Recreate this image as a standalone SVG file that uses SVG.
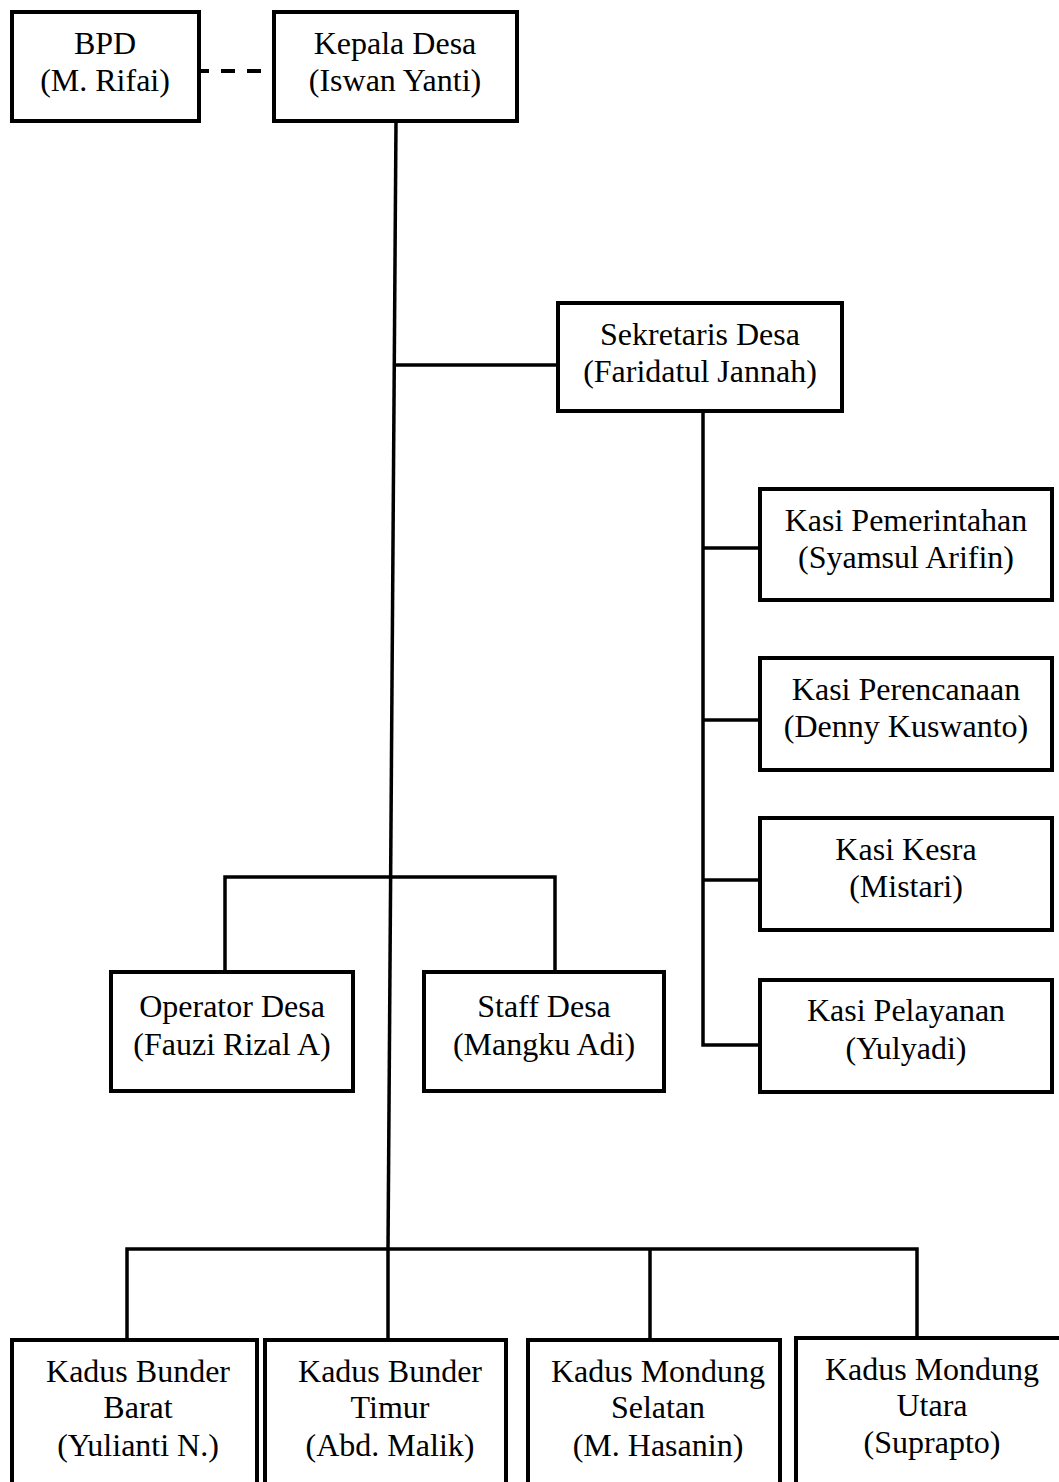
<svg xmlns="http://www.w3.org/2000/svg" width="1059" height="1482" viewBox="0 0 1059 1482">
<style>
.box{fill:#fff;stroke:#000;stroke-width:4}
.ln{fill:none;stroke:#000;stroke-width:3.5}
.dash{fill:none;stroke:#000;stroke-width:4;stroke-dasharray:10 12 14 12 14 12 30}
.t{font-size:32px;fill:#000;text-anchor:middle}
</style>
<rect width="1059" height="1482" fill="#fff"/>
<g id="connectors">
<line class="dash" x1="199" y1="71" x2="274" y2="71"/>
<line class="ln" x1="396" y1="121" x2="388" y2="1249"/>
<line class="ln" x1="395" y1="365" x2="558" y2="365"/>
<polyline class="ln" points="703,411 703,1045 760,1045"/>
<line class="ln" x1="703" y1="548" x2="760" y2="548"/>
<line class="ln" x1="703" y1="720" x2="760" y2="720"/>
<line class="ln" x1="703" y1="880" x2="760" y2="880"/>
<polyline class="ln" points="225,972 225,877 555,877 555,972"/>
<polyline class="ln" points="127,1340 127,1249 917,1249 917,1338"/>
<line class="ln" x1="388" y1="1249" x2="388" y2="1340"/>
<line class="ln" x1="650" y1="1249" x2="650" y2="1340"/>
</g>
<g font-family="Liberation Serif, Times New Roman, DejaVu Serif, serif">
<g id="bpd"><rect class="box" x="12" y="12" width="187" height="109"/><text class="t" x="105" y="54">BPD</text><text class="t" x="105" y="91">(M. Rifai)</text></g>
<g id="kepala"><rect class="box" x="274" y="12" width="243" height="109"/><text class="t" x="395" y="54">Kepala Desa</text><text class="t" x="395" y="91">(Iswan Yanti)</text></g>
<g id="sekretaris"><rect class="box" x="558" y="303" width="284" height="108"/><text class="t" x="700" y="345">Sekretaris Desa</text><text class="t" x="700" y="382">(Faridatul Jannah)</text></g>
<g id="kasi-pemerintahan"><rect class="box" x="760" y="489" width="292" height="111"/><text class="t" x="906" y="531">Kasi Pemerintahan</text><text class="t" x="906" y="568">(Syamsul Arifin)</text></g>
<g id="kasi-perencanaan"><rect class="box" x="760" y="658" width="292" height="112"/><text class="t" x="906" y="700">Kasi Perencanaan</text><text class="t" x="906" y="737">(Denny Kuswanto)</text></g>
<g id="kasi-kesra"><rect class="box" x="760" y="818" width="292" height="112"/><text class="t" x="906" y="860">Kasi Kesra</text><text class="t" x="906" y="897">(Mistari)</text></g>
<g id="kasi-pelayanan"><rect class="box" x="760" y="980" width="292" height="112"/><text class="t" x="906" y="1021">Kasi Pelayanan</text><text class="t" x="906" y="1059">(Yulyadi)</text></g>
<g id="operator"><rect class="box" x="111" y="972" width="242" height="119"/><text class="t" x="232" y="1017">Operator Desa</text><text class="t" x="232" y="1055">(Fauzi Rizal A)</text></g>
<g id="staff"><rect class="box" x="424" y="972" width="240" height="119"/><text class="t" x="544" y="1017">Staff Desa</text><text class="t" x="544" y="1055">(Mangku Adi)</text></g>
<g id="kadus-bunder-barat"><rect class="box" x="12" y="1340" width="245" height="160"/><text class="t" x="138" y="1382">Kadus Bunder</text><text class="t" x="138" y="1418">Barat</text><text class="t" x="138" y="1456">(Yulianti N.)</text></g>
<g id="kadus-bunder-timur"><rect class="box" x="265" y="1340" width="241" height="160"/><text class="t" x="390" y="1382">Kadus Bunder</text><text class="t" x="390" y="1418">Timur</text><text class="t" x="390" y="1456">(Abd. Malik)</text></g>
<g id="kadus-mondung-selatan"><rect class="box" x="528" y="1340" width="252" height="160"/><text class="t" x="658" y="1382">Kadus Mondung</text><text class="t" x="658" y="1418">Selatan</text><text class="t" x="658" y="1456">(M. Hasanin)</text></g>
<g id="kadus-mondung-utara"><rect class="box" x="796" y="1338" width="270" height="160"/><text class="t" x="932" y="1380">Kadus Mondung</text><text class="t" x="932" y="1416">Utara</text><text class="t" x="932" y="1453">(Suprapto)</text></g>
</g>
</svg>
